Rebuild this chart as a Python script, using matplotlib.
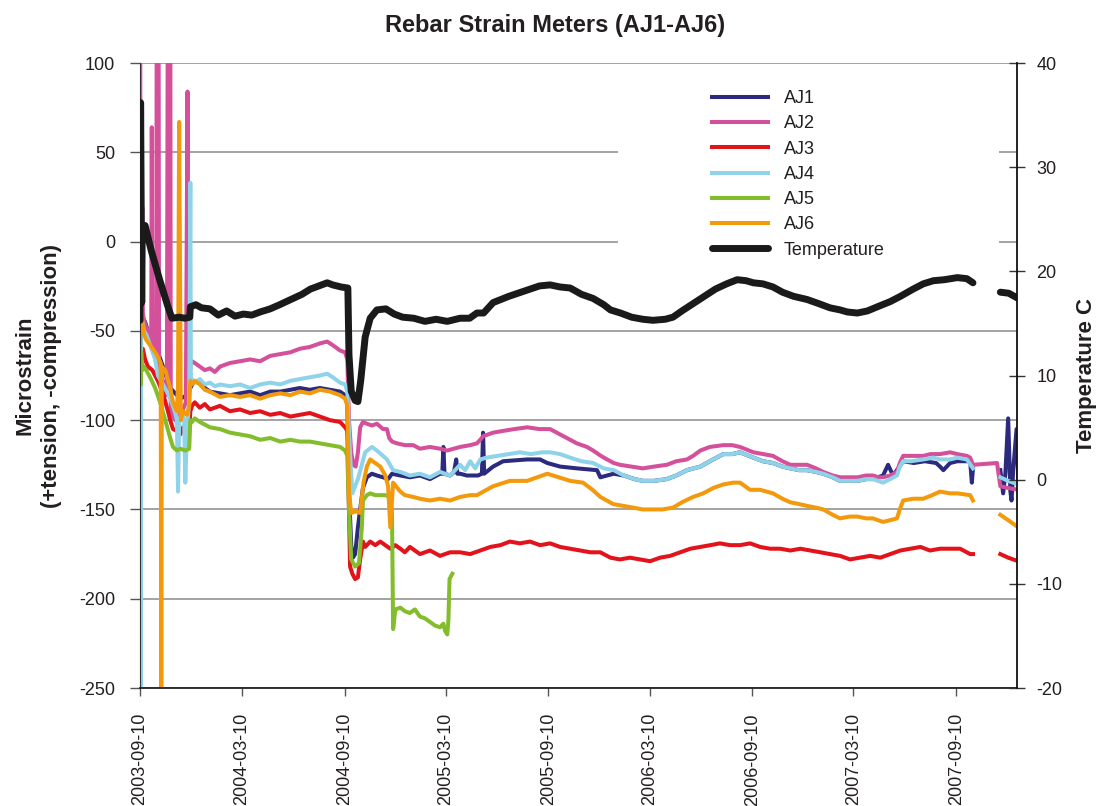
"""Rebar strain meters AJ1-AJ6 with concrete temperature, Sept 2003 - Dec 2007."""
import matplotlib
matplotlib.use("Agg")
import matplotlib.pyplot as plt
from matplotlib.patches import Rectangle
import numpy as np
import pandas as pd

nan = np.nan
START = "2003-09-10"
END = "2007-12-28"

# (days since START, microstrain)
AJ1 = [(0, -40), (4, -42), (9, -45), (14, -50), (22, -55), (32, -62), (41, -70), (54, -82),
       (63, -85), (72, -88), (84, -86), (90, -82), (95, -79), (107, -78), (116, -82), (125, -84),
       (143, -85), (161, -86), (179, -85), (197, -84), (215, -86), (233, -84), (251, -84),
       (269, -83), (286, -82), (304, -83), (322, -82), (340, -83), (358, -84), (367, -86),
       (371, -90), (374, -140), (378, -170), (381, -177), (385, -175), (390, -160), (394, -150),
       (399, -138), (406, -132), (415, -130), (424, -131), (435, -132), (444, -133), (451, -130),
       (466, -131), (483, -132), (501, -131), (519, -133), (537, -130), (541, -130), (543, -115),
       (545, -130), (555, -131), (562, -129), (566, -122), (568, -130), (573, -130), (585, -131),
       (605, -131), (612, -130), (614, -107), (616, -130), (632, -126), (650, -123), (693, -122),
       (716, -122), (729, -124), (752, -126), (782, -127), (818, -128), (824, -132), (848, -130),
       (866, -131), (885, -133), (900, -134), (920, -134), (943, -133), (960, -131), (979, -128),
       (1003, -126), (1020, -123), (1044, -119), (1060, -119), (1074, -118), (1098, -121),
       (1115, -123), (1133, -124), (1150, -126), (1164, -127), (1180, -128), (1194, -128),
       (1210, -129), (1223, -130), (1240, -132), (1253, -134), (1270, -134), (1284, -134),
       (1300, -133), (1312, -133), (1330, -131), (1339, -125), (1348, -131), (1366, -123),
       (1385, -124), (1405, -123), (1425, -124), (1432, -126), (1438, -128), (1450, -124),
       (1463, -123), (1486, -123), (1489, -135), (1491, -127), (1510, nan), (1540, -128),
       (1545, -141), (1549, -130), (1554, -99), (1558, -140), (1560, -145), (1563, -128),
       (1569, -105), (1572, -132)]

AJ2 = [(0, 180), (1, -20), (2, -30), (4, 19), (5, -40), (7, -44), (11, -48), (14, -50), (18, -55),
       (20, -58), (21, 64), (22, -60), (27, -64), (29, -68), (30, 180), (33, 180), (34, -72),
       (41, -78), (48, -86), (50, 180), (54, 180), (55, -94), (59, -98), (63, -100), (66, -99),
       (70, -97), (77, -94), (82, -90), (85, 84), (87, -78), (90, -70), (93, -67), (98, -68),
       (107, -70), (116, -72), (125, -71), (134, -73), (143, -70), (161, -68), (179, -67),
       (197, -66), (215, -67), (233, -64), (251, -63), (269, -62), (286, -60), (304, -59),
       (322, -57), (335, -56), (345, -58), (358, -61), (367, -62), (371, -66), (374, -100),
       (378, -118), (382, -125), (386, -126), (390, -118), (394, -104), (399, -101), (406, -102),
       (415, -103), (424, -102), (435, -105), (442, -105), (446, -110), (451, -112), (460, -113),
       (474, -114), (489, -114), (501, -116), (519, -115), (537, -116), (550, -117), (573, -115),
       (591, -114), (603, -113), (609, -111), (614, -109), (632, -107), (650, -106), (670, -105),
       (693, -104), (715, -105), (734, -105), (752, -108), (770, -111), (782, -113), (800, -115),
       (811, -117), (825, -120), (836, -122), (848, -124), (859, -125), (880, -126), (900, -127),
       (920, -126), (943, -125), (960, -123), (979, -122), (990, -120), (1003, -117), (1020, -115),
       (1044, -114), (1060, -114), (1074, -115), (1098, -118), (1115, -119), (1133, -120),
       (1150, -123), (1164, -125), (1180, -125), (1194, -125), (1210, -127), (1223, -129),
       (1240, -131), (1253, -132), (1270, -132), (1284, -132), (1300, -131), (1312, -131),
       (1322, -132), (1330, -132), (1343, -131), (1355, -129), (1360, -124), (1366, -120),
       (1380, -120), (1402, -120), (1415, -119), (1432, -119), (1450, -118), (1463, -119),
       (1480, -120), (1486, -121), (1491, -125), (1534, -124), (1540, -137), (1554, -138),
       (1572, -139)]

AJ3 = [(0, -58), (2, -62), (5, -60), (9, -66), (14, -70), (22, -72), (32, -78), (41, -85),
       (50, -95), (54, -100), (59, -105), (66, -106), (72, -108), (77, -104), (84, -110),
       (88, -106), (90, -95), (93, -92), (98, -90), (107, -93), (116, -91), (125, -94), (134, -93),
       (143, -92), (161, -95), (179, -94), (197, -96), (215, -95), (233, -97), (251, -96),
       (269, -98), (286, -97), (304, -96), (322, -98), (340, -100), (358, -101), (367, -104),
       (371, -106), (374, -150), (376, -182), (380, -186), (385, -189), (390, -188), (394, -178),
       (399, -168), (403, -171), (412, -168), (421, -170), (430, -168), (439, -170), (448, -172),
       (457, -170), (466, -172), (474, -174), (483, -171), (501, -175), (519, -173), (537, -176),
       (555, -174), (573, -174), (591, -175), (609, -173), (627, -171), (645, -170), (662, -168),
       (680, -169), (698, -168), (716, -170), (734, -169), (752, -171), (770, -172), (788, -173),
       (806, -174), (824, -174), (842, -177), (859, -178), (877, -177), (895, -178), (913, -179),
       (931, -177), (949, -176), (967, -174), (985, -172), (1003, -171), (1021, -170),
       (1038, -169), (1056, -170), (1074, -170), (1092, -169), (1110, -171), (1128, -172),
       (1146, -172), (1164, -173), (1182, -172), (1200, -173), (1218, -174), (1235, -175),
       (1253, -176), (1271, -178), (1289, -177), (1307, -176), (1325, -177), (1343, -175),
       (1361, -173), (1379, -172), (1397, -171), (1414, -173), (1432, -172), (1450, -172),
       (1468, -172), (1486, -175), (1491, -175), (1510, nan), (1540, -175), (1554, -177),
       (1572, -179)]

AJ4 = [(0, -40), (1, -262), (2, -42), (4, -45), (7, -50), (11, -52), (18, -58), (27, -66),
       (32, -75), (41, -80), (50, -85), (54, -88), (59, -92), (63, -96), (66, -100), (68, -140),
       (70, -100), (75, -95), (79, -100), (81, -135), (84, -105), (88, -90), (90, 33), (91, -78),
       (93, -77), (98, -79), (107, -77), (116, -80), (125, -79), (134, -81), (143, -80),
       (161, -81), (179, -80), (197, -82), (215, -80), (233, -79), (251, -80), (269, -78),
       (286, -77), (304, -76), (322, -75), (335, -74), (345, -76), (358, -79), (367, -80),
       (371, -84), (376, -120), (380, -141), (390, -133), (403, -118), (415, -115), (424, -117),
       (442, -122), (453, -128), (466, -129), (483, -131), (501, -130), (519, -132), (537, -129),
       (555, -131), (573, -125), (582, -128), (591, -123), (600, -127), (609, -122), (620, -121),
       (640, -120), (660, -119), (680, -118), (700, -119), (720, -118), (734, -118), (752, -119),
       (770, -121), (790, -123), (811, -124), (830, -127), (848, -128), (866, -131), (885, -133),
       (900, -134), (920, -134), (943, -133), (960, -131), (979, -128), (1003, -126),
       (1020, -123), (1044, -119), (1060, -119), (1074, -118), (1098, -121), (1115, -123),
       (1133, -124), (1150, -126), (1164, -127), (1180, -128), (1194, -128), (1210, -129),
       (1223, -130), (1240, -132), (1253, -134), (1270, -134), (1284, -134), (1300, -133),
       (1312, -133), (1330, -135), (1343, -133), (1355, -131), (1360, -126), (1366, -123),
       (1380, -123), (1402, -122), (1420, -121), (1432, -122), (1450, -122), (1463, -121),
       (1480, -122), (1491, -127), (1510, nan), (1540, -132), (1554, -134), (1572, -136)]

AJ5 = [(0, -50), (1, -80), (2, -62), (4, -72), (7, -70), (11, -72), (18, -76), (27, -82),
       (36, -90), (45, -100), (54, -110), (59, -115), (66, -117), (72, -116), (81, -117),
       (88, -116), (90, -100), (93, -101), (98, -99), (107, -101), (125, -104), (143, -105),
       (161, -107), (179, -108), (197, -109), (215, -111), (233, -110), (251, -112), (269, -111),
       (286, -112), (304, -112), (322, -113), (340, -114), (358, -115), (367, -117), (371, -120),
       (374, -150), (378, -178), (385, -182), (392, -180), (397, -160), (399, -145), (406, -142),
       (412, -141), (421, -142), (430, -142), (439, -142), (448, -143), (451, -152), (453, -217),
       (457, -206), (466, -205), (474, -207), (483, -208), (492, -206), (501, -210), (510, -211),
       (519, -213), (528, -215), (537, -216), (543, -214), (546, -218), (550, -220), (552, -212),
       (554, -189), (559, -186)]

AJ6 = [(0, -45), (2, -22), (4, -45), (7, -52), (11, -55), (18, -58), (27, -62), (34, -66),
       (37, -68), (38, -255), (39, -70), (45, -72), (54, -82), (59, -90), (63, -93), (66, -95),
       (68, -80), (70, 67), (72, -40), (73, -100), (77, -95), (84, -97), (88, -92), (90, -78),
       (93, -80), (98, -78), (107, -80), (116, -83), (125, -84), (143, -87), (161, -86),
       (179, -87), (197, -86), (215, -88), (233, -86), (251, -85), (269, -86), (286, -84),
       (304, -85), (322, -83), (340, -84), (358, -86), (367, -88), (371, -92), (374, -140),
       (378, -152), (386, -151), (394, -152), (400, -135), (406, -126), (412, -122), (421, -124),
       (430, -126), (439, -131), (444, -137), (448, -160), (453, -135), (466, -140), (474, -142),
       (489, -143), (501, -144), (519, -145), (537, -144), (555, -145), (573, -143), (591, -142),
       (603, -142), (632, -137), (662, -134), (693, -134), (729, -130), (770, -134), (793, -135),
       (810, -139), (824, -143), (847, -147), (865, -148), (883, -149), (900, -150), (918, -150),
       (935, -150), (954, -149), (970, -146), (990, -143), (1008, -141), (1026, -138),
       (1044, -136), (1062, -135), (1074, -135), (1092, -139), (1110, -139), (1133, -141),
       (1150, -144), (1164, -146), (1180, -147), (1194, -148), (1210, -149), (1223, -150),
       (1240, -153), (1253, -155), (1270, -154), (1284, -154), (1300, -155), (1312, -155),
       (1330, -157), (1343, -156), (1355, -155), (1360, -150), (1366, -145), (1384, -144),
       (1402, -144), (1418, -142), (1432, -140), (1450, -141), (1463, -141), (1486, -142),
       (1491, -145), (1510, nan), (1540, -153), (1554, -156), (1572, -160)]

# (days since START, deg C)
TEMP = [(0, 15.3), (1, 36.2), (3, 17.0), (4, 24.4), (9, 24.4), (20, 22.0), (35, 19.2), (50, 16.6),
        (57, 15.5), (70, 15.6), (80, 15.5), (89, 15.6), (90, 16.6), (100, 16.8), (110, 16.5),
        (125, 16.4), (140, 15.8), (155, 16.2), (170, 15.7), (185, 15.9), (200, 15.8), (215, 16.1),
        (233, 16.4), (250, 16.8), (270, 17.3), (290, 17.8), (305, 18.3), (320, 18.6), (335, 18.9),
        (345, 18.7), (360, 18.5), (372, 18.4), (374, 12.0), (378, 8.5), (385, 7.6), (390, 7.5),
        (395, 9.5), (403, 13.7), (412, 15.5), (424, 16.3), (440, 16.4), (455, 15.9), (470, 15.6),
        (490, 15.5), (510, 15.2), (530, 15.4), (550, 15.2), (573, 15.5), (590, 15.5), (603, 16.0),
        (615, 16.0), (632, 17.0), (660, 17.6), (693, 18.2), (715, 18.6), (734, 18.7), (752, 18.5),
        (770, 18.4), (790, 17.8), (811, 17.4), (830, 16.8), (842, 16.3), (860, 16.0), (880, 15.6),
        (900, 15.4), (918, 15.3), (940, 15.4), (954, 15.6), (970, 16.2), (990, 16.9), (1010, 17.6),
        (1030, 18.3), (1050, 18.8), (1069, 19.2), (1085, 19.1), (1098, 18.9), (1115, 18.8),
        (1133, 18.5), (1150, 18.0), (1170, 17.6), (1194, 17.3), (1215, 16.9), (1235, 16.5),
        (1253, 16.3), (1266, 16.1), (1284, 16.0), (1302, 16.2), (1320, 16.6), (1343, 17.1),
        (1361, 17.6), (1384, 18.3), (1402, 18.8), (1420, 19.1), (1440, 19.2), (1463, 19.4),
        (1480, 19.3), (1491, 18.9), (1510, nan), (1540, 18.0), (1555, 17.9), (1572, 17.4)]

SERIES = [("AJ1", AJ1, "#2b2a7e"), ("AJ2", AJ2, "#d5509a"), ("AJ3", AJ3, "#e3131b"),
          ("AJ4", AJ4, "#8fd3ea"), ("AJ5", AJ5, "#84bd2c"), ("AJ6", AJ6, "#f39a0c")]

XTICKS = ["2003-09-10", "2004-03-10", "2004-09-10", "2005-03-10", "2005-09-10",
          "2006-03-10", "2006-09-10", "2007-03-10", "2007-09-10"]


def to_xy(pairs):
    d = np.array([p[0] for p in pairs], float)
    v = np.array([p[1] for p in pairs], float)
    return pd.Timestamp(START) + pd.to_timedelta(d, unit="D"), v


plt.rcParams["font.family"] = ["Liberation Sans", "DejaVu Sans"]
plt.rcParams["axes.unicode_minus"] = False
TXT = "#231f20"

fig = plt.figure(figsize=(11.01, 8.06), dpi=100)
ax = fig.add_axes([0.1272, 0.1464, 0.7966, 0.7754])
ax.set_axisbelow(True)

handles = []
for name, pairs, color in SERIES:
    x, y = to_xy(pairs)
    h, = ax.plot(x, y, color=color, lw=2.9, label=name, zorder=2)
    handles.append(h)

ax.set_ylim(-250, 100)
ax.set_yticks(np.arange(-250, 101, 50))
ax.set_xlim(pd.Timestamp(START), pd.Timestamp(END))
ax.set_xticks(pd.to_datetime(XTICKS))
ax.set_xticklabels(XTICKS, rotation=90)
ax.yaxis.grid(True, color="#8a8a8a", lw=1.1)
ax.tick_params(axis="y", direction="out", length=7, width=1, color="#555555",
               labelsize=13, labelcolor=TXT, pad=11)
ax.tick_params(axis="x", direction="out", length=6, width=1, color="#555555",
               labelsize=13, labelcolor=TXT, pad=12)
for s in ("top", "right"):
    ax.spines[s].set_visible(False)
ax.spines["left"].set_color("#333333")
ax.spines["bottom"].set_color("#222222")
ax.spines["bottom"].set_linewidth(1.3)
ax.set_ylabel("Microstrain\n(+tension, -compression)", fontsize=16, fontweight="bold",
              color=TXT, labelpad=12, linespacing=1.35)

# white legend area hides the gridlines behind it
ax.add_patch(Rectangle((0.545, 0.68), 0.434, 0.30, transform=ax.transAxes,
                       facecolor="white", edgecolor="none", zorder=1))

ax2 = ax.twinx()
tx, ty = to_xy(TEMP)
ht, = ax2.plot(tx, ty, color="#1a1a1a", lw=5, solid_capstyle="round",
               solid_joinstyle="round", label="Temperature")
handles.append(ht)
ax2.set_ylim(-20, 40)
ax2.set_yticks(np.arange(-20, 41, 10))
ax2.tick_params(axis="y", direction="inout", length=12, width=1, color="#333333",
                labelsize=13, labelcolor=TXT, pad=8)
for s in ("top", "left", "bottom"):
    ax2.spines[s].set_visible(False)
ax2.spines["right"].set_color("#111111")
ax2.spines["right"].set_linewidth(1.3)
ax2.set_ylabel("Temperature C", fontsize=16, fontweight="bold", color=TXT, labelpad=10)

leg = ax2.legend(handles=handles, loc="upper left", bbox_to_anchor=(0.652, 0.957),
                 frameon=False, fontsize=13, handlelength=3.1, handletextpad=0.9,
                 labelspacing=0.46, borderpad=0, borderaxespad=0)
for t in leg.get_texts():
    t.set_color(TXT)

fig.suptitle("Rebar Strain Meters (AJ1-AJ6)", x=0.504, y=0.983, fontsize=17,
             fontweight="bold", color=TXT)

fig.savefig("out.png", dpi=100)
